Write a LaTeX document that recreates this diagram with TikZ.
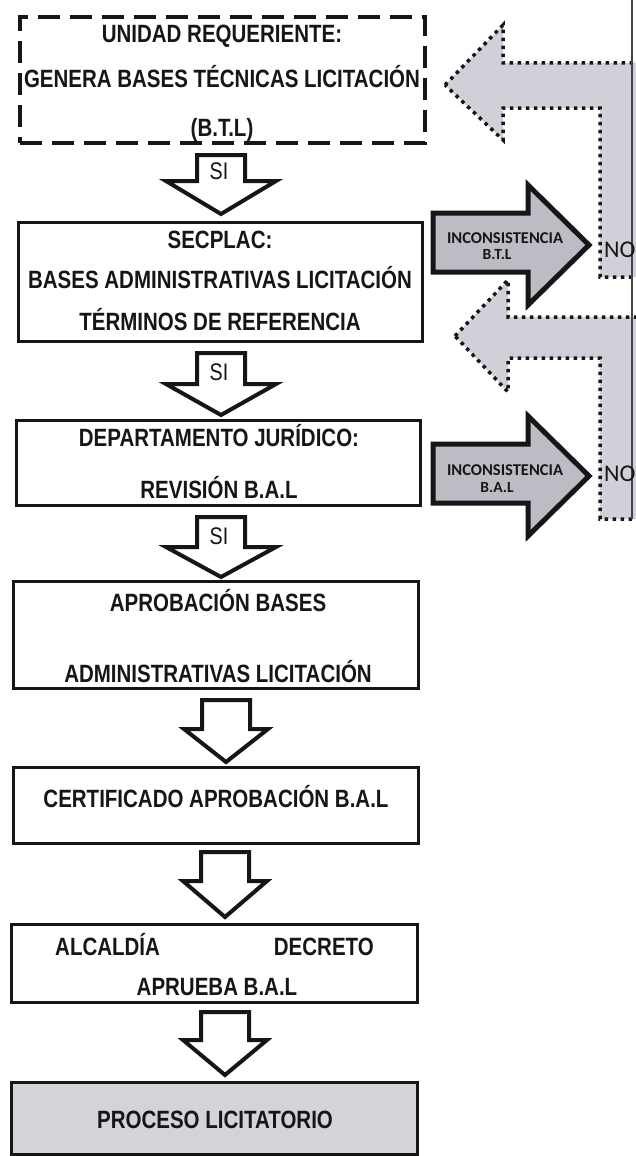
\documentclass[tikz,border=0pt]{standalone}
\usepackage{fontspec}
\setmainfont{Liberation Sans}[FakeStretch=0.82]
\newfontfamily\calfont{Carlito}
\definecolor{lightg}{HTML}{D0D0D9}
\definecolor{midg}{HTML}{BCBCC5}
\definecolor{boxg}{HTML}{D3D3D8}
\definecolor{ink}{HTML}{161616}
\begin{document}
\begin{tikzpicture}[x=1pt,y=-1pt,
  box/.style={draw=ink, line width=3pt, fill=white, inner sep=0pt},
  dbox/.style={box, dash pattern=on 22pt off 10pt, line width=3.5pt},
  txt/.style={font=\fontsize{25}{30}\selectfont\bfseries, text=ink, inner sep=0pt, anchor=base},
  sitxt/.style={font=\fontsize{24}{28}\selectfont, text=ink, inner sep=0pt, anchor=base},
  blk/.style={draw=ink, line width=4pt, line join=miter, fill=white},
  incarrow/.style={draw=ink, line width=5pt, line join=miter, fill=midg},
  dotshape/.style={fill=lightg, draw=ink, line width=3.5pt, dash pattern=on 3.5pt off 4.5pt},
  inctxt/.style={font=\calfont\fontsize{16.5}{19}\selectfont\bfseries, text=ink, inner sep=0pt, anchor=base},
  notxt/.style={font=\calfont\fontsize{24}{28}\selectfont, text=ink, inner sep=0pt, anchor=base west}]
\clip (0,0) rectangle (636,1156);
\fill[white] (0,0) rectangle (636,1156);

% gray dotted return arrows
\draw[dotshape] (445,85) -- (503,25) -- (503,63) -- (660,63) -- (660,277) -- (600,277) -- (600,108) -- (503,108) -- (503,140) -- cycle;
\draw[dotshape] (455,336) -- (508,280) -- (508,317) -- (660,317) -- (660,519) -- (600,519) -- (600,358) -- (508,358) -- (508,392) -- cycle;
\draw[line width=1.5pt, ink!80] (632,0) -- (632,519);

% inconsistency arrows
\draw[incarrow] (433,213) -- (528,213) -- (528,185) -- (589,245) -- (528,305) -- (528,272) -- (433,272) -- cycle;
\draw[incarrow] (433,444) -- (528,444) -- (528,416) -- (589,476) -- (528,536) -- (528,503) -- (433,503) -- cycle;
\node[inctxt] (inc1) at (505,243) {INCONSISTENCIA};
\node[inctxt, font=\calfont\fontsize{15.5}{18}\selectfont\bfseries] (inc1b) at (497,259) {B.T.L};
\node[inctxt] (inc2) at (505,475) {INCONSISTENCIA};
\node[inctxt, font=\calfont\fontsize{15.5}{18}\selectfont\bfseries] (inc2b) at (497,492) {B.A.L};
\node[notxt] (no1) at (604,257) {NO};
\node[notxt] (no2) at (604,481) {NO};

% boxes
\node[dbox, minimum width=405pt, minimum height=126pt] (b1) at (222.5,80) {};
\node[box, minimum width=404pt, minimum height=119pt] (b2) at (220,281.5) {};
\node[box, minimum width=404pt, minimum height=85pt] (b3) at (218,462.5) {};
\node[box, minimum width=405pt, minimum height=107pt] (b4) at (215.5,634.5) {};
\node[box, minimum width=405pt, minimum height=76pt] (b5) at (215.5,805) {};
\node[box, minimum width=406pt, minimum height=78pt] (b6) at (214,963) {};
\node[box, fill=boxg, minimum width=406pt, minimum height=72pt] (b7) at (214,1118) {};

% texts
\node[txt] (t1a) at (222,43) {UNIDAD REQUERIENTE:};
\node[txt] (t1b) at (222,88) {GENERA BASES TÉCNICAS LICITACIÓN};
\node[txt] (t1c) at (222,136) {(B.T.L)};
\node[txt] (t2a) at (220,248) {SECPLAC:};
\node[txt] (t2b) at (220,288) {BASES ADMINISTRATIVAS LICITACIÓN};
\node[txt] (t2c) at (220,330) {TÉRMINOS DE REFERENCIA};
\node[txt] (t3a) at (219,446) {DEPARTAMENTO JURÍDICO:};
\node[txt] (t3b) at (219,498) {REVISIÓN B.A.L};
\node[txt] (t4a) at (218,611) {APROBACIÓN BASES};
\node[txt] (t4b) at (218,682) {ADMINISTRATIVAS LICITACIÓN};
\node[txt] (t5) at (216,807) {CERTIFICADO APROBACIÓN B.A.L};
\node[txt, anchor=base west] (t6a) at (55,955) {ALCALDÍA};
\node[txt, anchor=base east] (t6b) at (374,955) {DECRETO};
\node[txt] (t6c) at (217,995) {APRUEBA B.A.L};
\node[txt] (t7) at (215,1128) {PROCESO LICITATORIO};

% down block arrows
\newcommand\dnarrow[6]{\draw[blk] (#1-#5,#2) -- (#1+#5,#2) -- (#1+#5,#3) -- (#1+#6,#3) -- (#1,#4) -- (#1-#6,#3) -- (#1-#5,#3) -- cycle;}
\dnarrow{221}{155}{181}{214}{24}{55}
\dnarrow{221}{353}{384}{415}{24}{55}
\dnarrow{221}{517}{547}{577}{24}{55}
\dnarrow{226}{700}{729}{762}{24}{42}
\dnarrow{225}{852}{881}{917}{24}{42}
\dnarrow{225}{1012}{1040}{1075}{24}{42}
\node[sitxt] (si1) at (219,179) {SI};
\node[sitxt] (si2) at (219,380) {SI};
\node[sitxt] (si3) at (219,544) {SI};
\end{tikzpicture}
\end{document}
